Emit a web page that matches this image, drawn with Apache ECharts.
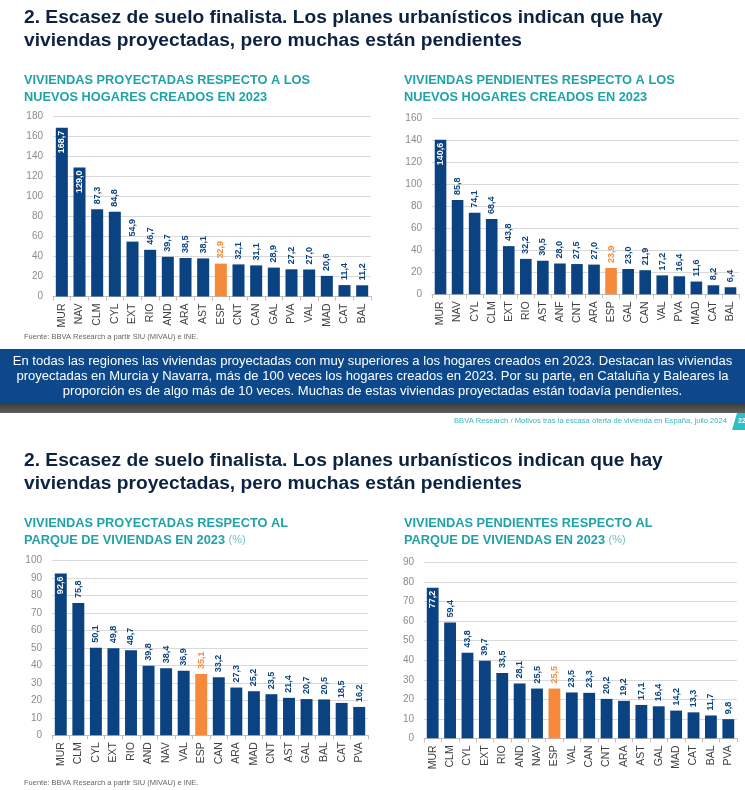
<!DOCTYPE html>
<html>
<head>
<meta charset="utf-8">
<script src="https://cdn.jsdelivr.net/npm/echarts@6/dist/echarts.min.js"></script>
<style>
html,body{margin:0;padding:0;background:#fff;}
#c{width:745px;height:790px;}
</style>
</head>
<body>
<div id="c"></div>
<script>
// ---- Data ----
const cats1 = ['MUR','NAV','CLM','CYL','EXT','RIO','AND','ARA','AST','ESP','CNT','CAN','GAL','PVA','VAL','MAD','CAT','BAL'];
const vals1 = [168.7,129.0,87.3,84.8,54.9,46.7,39.7,38.5,38.1,32.9,32.1,31.1,28.9,27.2,27.0,20.6,11.4,11.2];
const cats2 = ['MUR','NAV','CYL','CLM','EXT','RIO','AST','ANF','CNT','ARA','ESP','GAL','CAN','VAL','PVA','MAD','CAT','BAL'];
const vals2 = [140.6,85.8,74.1,68.4,43.8,32.2,30.5,28.0,27.5,27.0,23.9,23.0,21.9,17.2,16.4,11.6,8.2,6.4];
const cats3 = ['MUR','CLM','CYL','EXT','RIO','AND','NAV','VAL','ESP','CAN','ARA','MAD','CNT','AST','GAL','BAL','CAT','PVA'];
const vals3 = [92.6,75.8,50.1,49.8,48.7,39.8,38.4,36.9,35.1,33.2,27.3,25.2,23.5,21.4,20.7,20.5,18.5,16.2];
const cats4 = ['MUR','CLM','CYL','EXT','RIO','AND','NAV','ESP','VAL','CAN','CNT','ARA','AST','GAL','MAD','CAT','BAL','PVA'];
const vals4 = [77.2,59.4,43.8,39.7,33.5,28.1,25.5,25.5,23.5,23.3,20.2,19.2,17.1,16.4,14.2,13.3,11.7,9.8];
const yMax = [180,160,100,90];
const yStep = [20,20,10,10];
const insideLabels = [['MUR','NAV'],['MUR'],['MUR'],['MUR']];
const highlight = 'ESP';

const slideTitle = ['2. Escasez de suelo finalista. Los planes urbanísticos indican que hay',
                    'viviendas proyectadas, pero muchas están pendientes'];
const chartTitles = [
  ['VIVIENDAS PROYECTADAS RESPECTO A LOS','NUEVOS HOGARES CREADOS EN 2023'],
  ['VIVIENDAS PENDIENTES RESPECTO A LOS','NUEVOS HOGARES CREADOS EN 2023'],
  ['VIVIENDAS PROYECTADAS RESPECTO AL','PARQUE DE VIVIENDAS EN 2023 {p|(%)}'],
  ['VIVIENDAS PENDIENTES RESPECTO AL','PARQUE DE VIVIENDAS EN 2023 {p|(%)}']
];
const source = 'Fuente: BBVA Research a partir SIU (MIVAU) e INE.';
const bandText = [
  'En todas las regiones las viviendas proyectadas con muy superiores a los hogares creados en 2023. Destacan las viviendas',
  'proyectadas en Murcia y Navarra, más de 100 veces los hogares creados en 2023. Por su parte, en Cataluña y Baleares la',
  'proporción es de algo más de 10 veces. Muchas de estas viviendas proyectadas están todavía pendientes.'
];
const footer = 'BBVA Research / Motivos tras la escasa oferta de vivienda en España, julio 2024';
const pageNum = '22';

// ---- Style ----
const NAVY = '#0a4282';
const ORANGE = '#f7893b';
const TEAL = '#1fa3a8';
const TITLE = '#0d2240';
const FONT = '"Liberation Sans", Arial, sans-serif';

const grids = [
  {left:53, top:116.5, width:318, height:180},
  {left:432, top:118.3, width:307, height:176},
  {left:52, top:560.7, width:316, height:174.5},
  {left:424, top:562.7, width:313, height:175.6}
];
const cats = [cats1,cats2,cats3,cats4];
const vals = [vals1,vals2,vals3,vals4];

function fmt(v){ return v.toFixed(1).replace('.', ','); }

const xAxis = [], yAxis = [], series = [];
for (let i = 0; i < 4; i++) {
  xAxis.push({
    type:'category', gridIndex:i, data:cats[i],
    axisLine:{lineStyle:{color:'#bfbfbf'}},
    axisTick:{show:true, length:4, lineStyle:{color:'#bfbfbf'}},
    axisLabel:{rotate:90, fontSize:10.5, color:'#404040', margin:7, fontFamily:FONT, interval:0}
  });
  yAxis.push({
    type:'value', gridIndex:i, min:0, max:yMax[i], interval:yStep[i],
    axisLine:{show:false}, axisTick:{show:false},
    splitLine:{lineStyle:{color:'#d9d9d9'}},
    axisLabel:{fontSize:10, color:'#8c8c8c', margin:10, fontFamily:FONT}
  });
  const data = vals[i].map((v, k) => {
    const c = cats[i][k];
    const isHi = c === highlight;
    const inside = insideLabels[i].indexOf(c) >= 0;
    return {
      value: v,
      itemStyle: {color: isHi ? ORANGE : NAVY},
      label: inside ?
        {position:'insideTop', distance:3, align:'right', verticalAlign:'middle', color:'#fff'} :
        {position:'top', distance:5, align:'left', verticalAlign:'middle', color: isHi ? ORANGE : NAVY}
    };
  });
  series.push({
    type:'bar', xAxisIndex:i, yAxisIndex:i, data:data, barCategoryGap:'32%',
    label:{show:true, rotate:90, fontSize:9, fontWeight:'bold', fontFamily:FONT,
           formatter: p => fmt(p.value)},
    animation:false
  });
}

function txt(x, y, text, opts) {
  return {type:'text', x:x, y:y, silent:true,
    style:Object.assign({text:text, fill:'#000', fontFamily:FONT, fontSize:12,
      align:'left', verticalAlign:'middle'}, opts)};
}

const graphic = [];
// Slides
[0, 443].forEach((off, s) => {
  graphic.push(txt(24, 18 + off, slideTitle[0], {fill:TITLE, fontSize:19.2, fontWeight:'bold'}));
  graphic.push(txt(24, 41 + off, slideTitle[1], {fill:TITLE, fontSize:19.2, fontWeight:'bold'}));
  [24, 404].forEach((x, j) => {
    const t = chartTitles[s*2 + j];
    graphic.push(txt(x, 80 + off, t[0], {fill:TEAL, fontSize:12.8, fontWeight:'bold'}));
    graphic.push(txt(x, 97 + off, t[1], {fill:TEAL, fontSize:12.8, fontWeight:'bold',
      rich:{p:{fontWeight:'normal', fontSize:11, fill:'#6fc3c6', fontFamily:FONT}}}));
  });
});
graphic.push(txt(24, 337, source, {fill:'#666', fontSize:7.5}));
graphic.push(txt(24, 783, source, {fill:'#666', fontSize:7.5}));
// Blue band
graphic.push({type:'rect', shape:{x:0, y:349, width:745, height:54}, style:{fill:'#0c488a'}, silent:true, z:-1});
graphic.push({type:'rect', shape:{x:0, y:403, width:745, height:10}, silent:true, z:-1,
  style:{fill:new echarts.graphic.LinearGradient(0,0,0,1,[{offset:0,color:'#3a3a3a'},{offset:1,color:'#5e5e5e'}])}});
bandText.forEach((t, k) => {
  graphic.push(txt(372.5, 361.7 + k*15, t, {fill:'#fff', fontSize:13.05, align:'center'}));
});
graphic.push(txt(727, 421, footer, {fill:'#3bb3bb', fontSize:7.6, align:'right'}));
graphic.push({type:'polygon', shape:{points:[[737,413],[745,413],[745,430],[732,430]]}, style:{fill:'#2bbfc6'}, silent:true});
graphic.push(txt(738, 421.5, pageNum, {fill:'#fff', fontSize:7, fontWeight:'bold'}));

const chart = echarts.init(document.getElementById('c'), null, {renderer:'canvas'});
chart.setOption({
  animation:false,
  grid: grids,
  xAxis: xAxis,
  yAxis: yAxis,
  series: series,
  graphic: graphic
});
</script>
</body>
</html>
